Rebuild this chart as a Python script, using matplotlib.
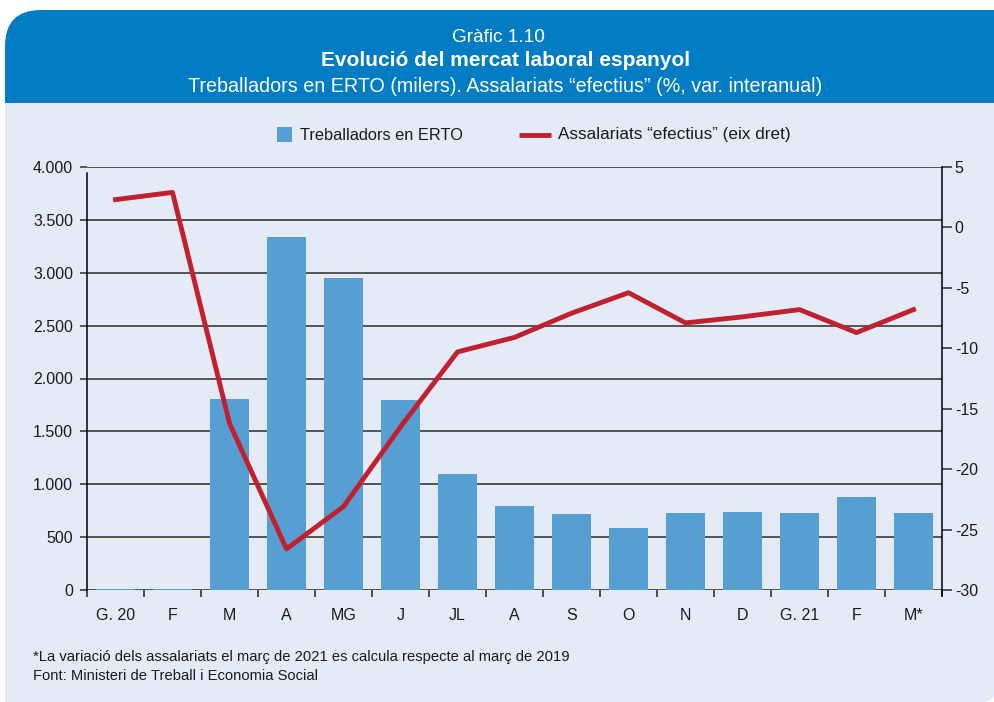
import matplotlib
matplotlib.use("Agg")
import matplotlib.pyplot as plt
from matplotlib.patches import FancyBboxPatch, Rectangle

# dades del gràfic
months = ["G. 20", "F", "M", "A", "MG", "J", "JL", "A", "S", "O", "N", "D", "G. 21", "F", "M*"]
erto = [10, 10, 1810, 3340, 2950, 1800, 1100, 795, 720, 590, 730, 735, 730, 880, 730]
assalariats = [2.3, 2.9, -16.2, -26.6, -23.1, -16.5, -10.3, -9.1, -7.1, -5.4, -7.9, -7.4, -6.8, -8.7, -6.8]
left_ticks = [0, 500, 1000, 1500, 2000, 2500, 3000, 3500, 4000]
left_labels = ["0", "500", "1.000", "1.500", "2.000", "2.500", "3.000", "3.500", "4.000"]
right_ticks = [-30, -25, -20, -15, -10, -5, 0, 5]
right_labels = ["-30", "-25", "-20", "-15", "-10", "-5", "0", "5"]

HEADER = "#027cc3"
BODY = "#e5ebf6"
BAR = "#579fd2"
LINE = "#c1202f"
TXT = "#1a1a1a"

plt.rcParams["font.family"] = ["Liberation Sans", "DejaVu Sans"]

W, H = 995, 702
fig = plt.figure(figsize=(W / 100, H / 100), dpi=100)
fig.patch.set_facecolor("white")

# fons i capçalera (coordenades en píxels)
bg = fig.add_axes([0, 0, 1, 1], zorder=0)
bg.set_xlim(0, W)
bg.set_ylim(H, 0)
bg.axis("off")
bg.add_patch(FancyBboxPatch((5, 103), 990, 599, boxstyle="round,pad=0,rounding_size=12",
                            fc=BODY, ec="none"))
bg.add_patch(Rectangle((5, 640), 40, 62, fc=BODY, ec="none"))
bg.add_patch(FancyBboxPatch((5, 10), 990, 140, boxstyle="round,pad=0,rounding_size=36",
                            fc=HEADER, ec="none"))
bg.add_patch(Rectangle((900, 10), 95, 60, fc=HEADER, ec="none"))
bg.add_patch(Rectangle((5, 103), 990, 60, fc=BODY, ec="none"))

bg.text(498, 37, "Gràfic 1.10", color="white", fontsize=13.7, ha="center", va="center")
bg.text(506, 61, "Evolució del mercat laboral espanyol", color="white", fontsize=15,
        fontweight="bold", ha="center", va="center")
bg.text(505, 86, "Treballadors en ERTO (milers). Assalariats \u201cefectius\u201d (%, var. interanual)",
        color="white", fontsize=14.2, ha="center", va="center")

# llegenda
bg.add_patch(Rectangle((277, 127), 15, 15, fc=BAR, ec="none"))
bg.text(300, 135, "Treballadors en ERTO", fontsize=11.8, ha="left", va="center", color=TXT)
bg.plot([519, 551], [135, 135], color=LINE, lw=3.5, solid_capstyle="butt")
bg.text(558, 135, "Assalariats \u201cefectius\u201d (eix dret)", fontsize=12.3,
        ha="left", va="center", color=TXT)

# notes
bg.text(33, 657, "*La variació dels assalariats el març de 2021 es calcula respecte al març de 2019",
        fontsize=10.6, ha="left", va="center", color=TXT)
bg.text(33, 676, "Font: Ministeri de Treball i Economia Social", fontsize=10.6, ha="left",
        va="center", color=TXT)

# gràfic
ax = fig.add_axes([87 / W, 1 - 590 / H, (942 - 87) / W, (590 - 167) / H], zorder=1)
ax.set_facecolor("none")
x = list(range(len(months)))
ax.bar(x, erto, width=0.67, color=BAR, zorder=2)
ax.set_xlim(-0.5, len(months) - 0.5)
ax.set_ylim(0, 4000)
ax.set_yticks(left_ticks)
ax.set_yticklabels(left_labels, fontsize=11.5, color=TXT)
ax.yaxis.grid(True, color="#2a2a2a", lw=1.1, zorder=1)
ax.set_axisbelow(True)
ax.tick_params(axis="y", length=5, width=1.1, color="#2a2a2a", pad=5)
ax.set_xticks(x)
ax.set_xticklabels(months, fontsize=11.5, color=TXT)
ax.set_xticks([i + 0.5 for i in range(-1, len(months))], minor=True)
ax.tick_params(axis="x", which="major", length=0, pad=13)
ax.tick_params(axis="x", which="minor", length=5, width=1.1, color="#222222")
for s in ["top", "right", "bottom"]:
    ax.spines[s].set_visible(False)
ax.spines["left"].set_bounds(0, 3940)
ax.spines["left"].set_linewidth(1.1)

ax2 = ax.twinx()
ax2.set_ylim(-30, 5)
ax2.plot(x, assalariats, color=LINE, lw=3.5, zorder=3)
ax2.set_yticks(right_ticks)
ax2.set_yticklabels(right_labels, fontsize=11.5, color=TXT)
ax2.tick_params(axis="y", length=7.2, width=1.1, color="#2a2a2a", pad=2)
for s in ["top", "left", "bottom"]:
    ax2.spines[s].set_visible(False)
ax2.spines["right"].set_linewidth(1.1)
ax2.spines["right"].set_bounds(-30.5, 5)

fig.savefig("out.png", dpi=100, facecolor="white")
